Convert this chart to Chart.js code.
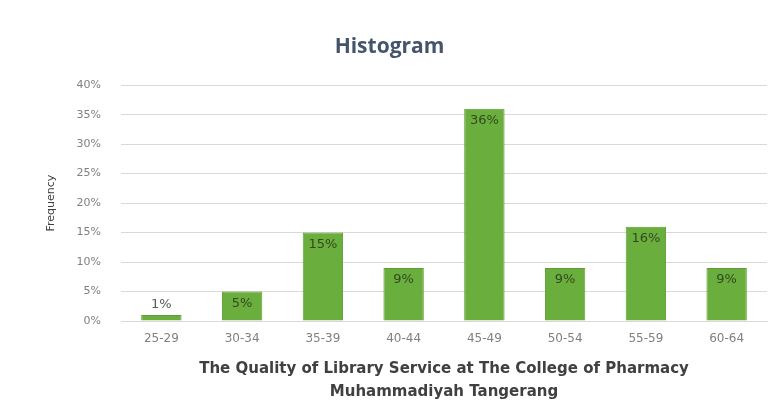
<!DOCTYPE html>
<html>
<head>
<meta charset="utf-8">
<script src="https://cdn.jsdelivr.net/npm/chart.js@4/dist/chart.umd.min.js"></script>
<style>
  html, body { margin: 0; padding: 0; background: #fff; }
  #wrap { width: 779px; height: 413px; }
</style>
</head>
<body>
<div id="wrap"><canvas id="chart"></canvas></div>
<script>
const ageGroups = ["25-29", "30-34", "35-39", "40-44", "45-49", "50-54", "55-59", "60-64"];
const percentages = [1, 5, 15, 9, 36, 9, 16, 9];
const yTicks = [0, 5, 10, 15, 20, 25, 30, 35, 40];

// draws the % labels near the top of each bar
const barLabels = {
  id: "barLabels",
  afterDatasetsDraw(chart) {
    const ctx = chart.ctx;
    const meta = chart.getDatasetMeta(0);
    ctx.save();
    ctx.font = "13px 'DejaVu Sans', sans-serif";
    ctx.textAlign = "center";
    ctx.textBaseline = "middle";
    meta.data.forEach((bar, i) => {
      const v = percentages[i];
      const h = bar.base - bar.y;
      let y = bar.y + 12;
      ctx.fillStyle = "#34481f";
      if (h < 22) {
        y = bar.y - 10;
        ctx.fillStyle = "#595959";
      }
      ctx.fillText(v + "%", bar.x, y);
    });
    ctx.restore();
  },
};

new Chart(document.getElementById("chart"), {
  type: "bar",
  data: {
    labels: ageGroups,
    datasets: [
      {
        label: "Frequency",
        data: percentages,
        backgroundColor: "#6aae3e",
        borderColor: "#5d9e35",
        borderWidth: 1,
        categoryPercentage: 1,
        barPercentage: 0.5,
      },
    ],
  },
  options: {
    responsive: true,
    maintainAspectRatio: false,
    animation: false,
    layout: { padding: { left: 12, right: 12, top: 34, bottom: 9 } },
    plugins: {
      legend: { display: false },
      tooltip: { enabled: false },
      title: {
        display: true,
        text: "Histogram",
        color: "#44546a",
        font: { family: "'Open Sans', sans-serif", size: 21, weight: "bold" },
        padding: { top: 0, bottom: 26 },
      },
    },
    scales: {
      x: {
        afterFit(axis) {
          axis.height = 83;
        },
        grid: { display: false },
        border: { color: "#d9d9d9" },
        ticks: {
          color: "#808080",
          font: { family: "'DejaVu Sans', sans-serif", size: 12 },
          padding: 3,
        },
        title: {
          display: true,
          text: [
            "The Quality of Library Service at The College of Pharmacy",
            "Muhammadiyah Tangerang",
          ],
          color: "#404040",
          font: { family: "'DejaVu Sans', sans-serif", size: 15, weight: "bold", lineHeight: 1.55 },
          padding: { top: 10, bottom: 0 },
        },
      },
      y: {
        min: 0,
        max: 40,
        afterBuildTicks(axis) {
          axis.ticks = yTicks.map((v) => ({ value: v }));
        },
        afterFit(axis) {
          axis.width = 109;
        },
        grid: { color: "#d9d9d9", drawTicks: false },
        border: { display: false },
        ticks: {
          color: "#808080",
          font: { family: "'DejaVu Sans', sans-serif", size: 11 },
          padding: 20,
          callback: (v) => v + "%",
        },
        title: {
          display: true,
          text: "Frequency",
          color: "#404040",
          font: { family: "'DejaVu Sans', sans-serif", size: 11 },
          padding: { top: 33, bottom: 0 },
        },
      },
    },
  },
  plugins: [barLabels],
});
</script>
</body>
</html>
